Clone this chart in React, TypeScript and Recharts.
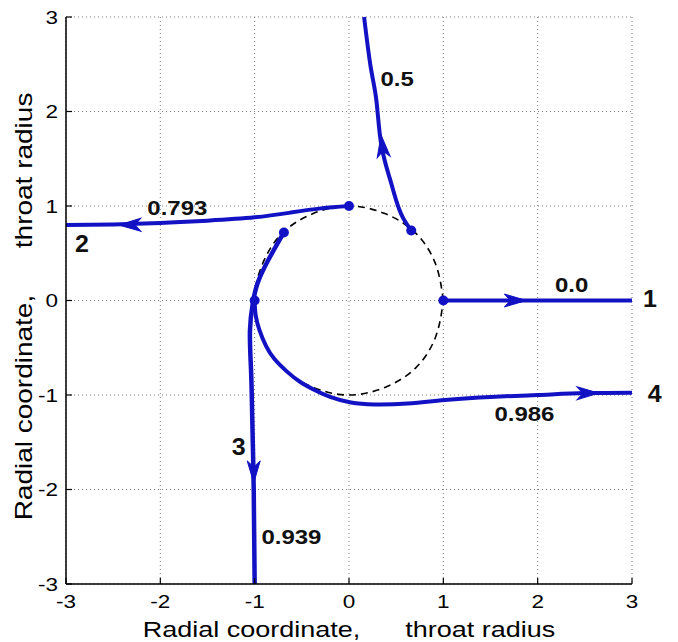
import React from "react";
import { ComposedChart, Line, Scatter, XAxis, YAxis, CartesianGrid, ReferenceDot } from "recharts";

const BLUE = "#1212c4";
const FONT = "Arial, 'Liberation Sans', sans-serif";

const ticks = [-3, -2, -1, 0, 1, 2, 3];

// dashed throat circle
const throat = [
  { x: 1, y: 0 }, { x: 0.92, y: 0.38 }, { x: 0.71, y: 0.71 }, { x: 0.38, y: 0.92 },
  { x: 0, y: 1 }, { x: -0.38, y: 0.92 }, { x: -0.71, y: 0.71 }, { x: -0.92, y: 0.38 },
  { x: -1, y: 0 }, { x: -0.92, y: -0.38 }, { x: -0.71, y: -0.71 }, { x: -0.38, y: -0.92 },
  { x: 0, y: -1 }, { x: 0.38, y: -0.92 }, { x: 0.71, y: -0.71 }, { x: 0.92, y: -0.38 },
  { x: 1, y: 0 },
];

// trajectories
const curve00 = [{ x: 1, y: 0 }, { x: 3, y: 0 }];
const curve05 = [
  { x: 0.66, y: 0.74 }, { x: 0.57, y: 0.88 }, { x: 0.5, y: 1.06 }, { x: 0.43, y: 1.3 },
  { x: 0.34, y: 1.66 }, { x: 0.29, y: 2.12 }, { x: 0.23, y: 2.47 }, { x: 0.16, y: 3.0 },
];
const curve0793 = [
  { x: 0, y: 1 }, { x: -0.3, y: 0.975 }, { x: -0.62, y: 0.93 }, { x: -1, y: 0.88 },
  { x: -1.5, y: 0.845 }, { x: -2, y: 0.82 }, { x: -2.5, y: 0.805 }, { x: -3, y: 0.8 },
];
const curve0939 = [
  { x: -0.69, y: 0.72 }, { x: -0.86, y: 0.42 }, { x: -0.97, y: 0.18 }, { x: -1.02, y: -0.03 },
  { x: -1.05, y: -0.32 }, { x: -1.04, y: -0.7 }, { x: -1.03, y: -1.03 }, { x: -1.02, y: -1.5 },
  { x: -1.01, y: -2.0 }, { x: -1.0, y: -3.0 },
];
const curve0986 = [
  { x: -1, y: 0 }, { x: -0.99, y: -0.15 }, { x: -0.95, y: -0.31 }, { x: -0.88, y: -0.48 },
  { x: -0.79, y: -0.62 }, { x: -0.66, y: -0.75 }, { x: -0.52, y: -0.86 }, { x: -0.36, y: -0.95 },
  { x: -0.2, y: -1.02 }, { x: 0.02, y: -1.08 }, { x: 0.27, y: -1.1 }, { x: 0.62, y: -1.09 },
  { x: 1.05, y: -1.05 }, { x: 1.5, y: -1.02 }, { x: 2.0, y: -1.0 }, { x: 2.5, y: -0.98 },
  { x: 3.0, y: -0.975 },
];

const startPoints = [
  { x: 1, y: 0 }, { x: 0.66, y: 0.74 }, { x: 0, y: 1 }, { x: -0.69, y: 0.72 }, { x: -1, y: 0 },
];

// arrow tips with direction
const arrows = [
  { x: 1.88, y: 0, dx: 1, dy: 0 },
  { x: 0.34, y: 1.75, dx: -0.12, dy: 1 },
  { x: -2.44, y: 0.8, dx: -1, dy: -0.01 },
  { x: -1.01, y: -1.93, dx: 0, dy: -1 },
  { x: 2.65, y: -0.98, dx: 1, dy: 0.01 },
];

const valueLabels = [
  { x: -1.82, y: 0.98, text: "0.793" },
  { x: 0.51, y: 2.34, text: "0.5" },
  { x: 2.36, y: 0.16, text: "0.0" },
  { x: -0.61, y: -2.5, text: "0.939" },
  { x: 1.86, y: -1.2, text: "0.986" },
];

const curveNumbers = [
  { x: 3.19, y: 0.02, text: "1" },
  { x: -2.83, y: 0.6, text: "2" },
  { x: -1.17, y: -1.55, text: "3" },
  { x: 3.24, y: -0.99, text: "4" },
];

const TITLE = "Radial coordinate,      throat radius";

// text a little flattened, like the reference
const squish = (y: number, s: number) => `matrix(1 0 0 ${s} 0 ${y * (1 - s)})`;

const ArrowHead = (props: any) => {
  const { cx, cy, payload } = props;
  const ang = (Math.atan2(-payload.dy, payload.dx) * 180) / Math.PI;
  return (
    <path
      d="M0,0 L-22,-6.5 L-16,0 L-22,6.5 Z"
      transform={`translate(${cx},${cy}) rotate(${ang})`}
      fill={BLUE}
      stroke={BLUE}
      strokeWidth={1}
    />
  );
};

const StartDot = (props: any) => <circle cx={props.cx} cy={props.cy} r={5} fill={BLUE} />;

const XTick = (props: any) => (
  <text x={props.x} y={props.y} textAnchor="middle" dominantBaseline="central"
    fontSize={22.5} fontFamily={FONT} fill="#000" transform={squish(props.y, 0.82)}>
    {props.payload.value}
  </text>
);

const YTick = (props: any) => (
  <text x={props.x} y={props.y} textAnchor="end" dominantBaseline="central"
    fontSize={22.5} fontFamily={FONT} fill="#000" transform={squish(props.y, 0.82)}>
    {props.payload.value}
  </text>
);

const xTitle = (props: any) => {
  const vb = props.viewBox;
  const y = vb.y + 53;
  return (
    <text x={vb.x + vb.width / 2} y={y} textAnchor="middle" fontSize={27} fontFamily={FONT}
      fill="#000" xmlSpace="preserve" style={{ whiteSpace: "pre" }} transform={squish(y, 0.8)}>
      {TITLE}
    </text>
  );
};

const yTitle = (props: any) => {
  const vb = props.viewBox;
  const cx = vb.x + 16;
  const cy = vb.y + vb.height / 2 + 6;
  return (
    <text x={cx} y={cy} textAnchor="middle" dominantBaseline="central" fontSize={28}
      fontFamily={FONT} fill="#000" xmlSpace="preserve" style={{ whiteSpace: "pre" }}
      transform={`rotate(-90 ${cx} ${cy}) ${squish(cy, 0.85)}`}>
      {TITLE}
    </text>
  );
};

const axisProps = {
  type: "number" as const,
  domain: [-3, 3],
  ticks,
  interval: 0 as const,
  tickSize: -6,
  axisLine: { stroke: "#000", strokeWidth: 1.5 },
  tickLine: { stroke: "#000", strokeWidth: 1.2 },
};

export default function App() {
  return (
    <ComposedChart width={670} height={634} margin={{ top: 9, right: 46, bottom: 0, left: 0 }}>
      <CartesianGrid stroke="#7a7a7a" strokeDasharray="1 3" />
      <XAxis dataKey="x" {...axisProps} tick={XTick} tickMargin={23} height={58} label={xTitle} />
      <YAxis dataKey="y" {...axisProps} tick={YTick} tickMargin={14} width={58} label={yTitle} />

      <Line data={throat} dataKey="y" type="natural" stroke="#000" strokeWidth={1.6}
        strokeDasharray="7 5" dot={false} activeDot={false} isAnimationActive={false} />
      <Line data={curve00} dataKey="y" type="linear" stroke={BLUE} strokeWidth={4}
        dot={false} activeDot={false} isAnimationActive={false} />
      <Line data={curve05} dataKey="y" type="natural" stroke={BLUE} strokeWidth={4}
        dot={false} activeDot={false} isAnimationActive={false} />
      <Line data={curve0793} dataKey="y" type="natural" stroke={BLUE} strokeWidth={4}
        dot={false} activeDot={false} isAnimationActive={false} />
      <Line data={curve0939} dataKey="y" type="natural" stroke={BLUE} strokeWidth={4.5}
        dot={false} activeDot={false} isAnimationActive={false} />
      <Line data={curve0986} dataKey="y" type="natural" stroke={BLUE} strokeWidth={4}
        dot={false} activeDot={false} isAnimationActive={false} />

      <Scatter data={startPoints} dataKey="y" shape={StartDot} isAnimationActive={false} />
      <Scatter data={arrows} dataKey="y" shape={ArrowHead} isAnimationActive={false} />

      {valueLabels.map((l) => (
        <ReferenceDot key={l.text} x={l.x} y={l.y} r={1} ifOverflow="visible"
          shape={(p: any) => (
            <text x={p.cx} y={p.cy} textAnchor="middle" dominantBaseline="central"
              fontSize={24} fontWeight="bold" fontFamily={FONT} fill="#111"
              transform={squish(p.cy, 0.87)}>
              {l.text}
            </text>
          )}
        />
      ))}
      {curveNumbers.map((l) => (
        <ReferenceDot key={"n" + l.text} x={l.x} y={l.y} r={1} ifOverflow="visible"
          shape={(p: any) => (
            <text x={p.cx} y={p.cy} textAnchor="middle" dominantBaseline="central"
              fontSize={25} fontWeight="bold" fontFamily={FONT} fill="#111"
              transform={squish(p.cy, 0.95)}>
              {l.text}
            </text>
          )}
        />
      ))}
    </ComposedChart>
  );
}
